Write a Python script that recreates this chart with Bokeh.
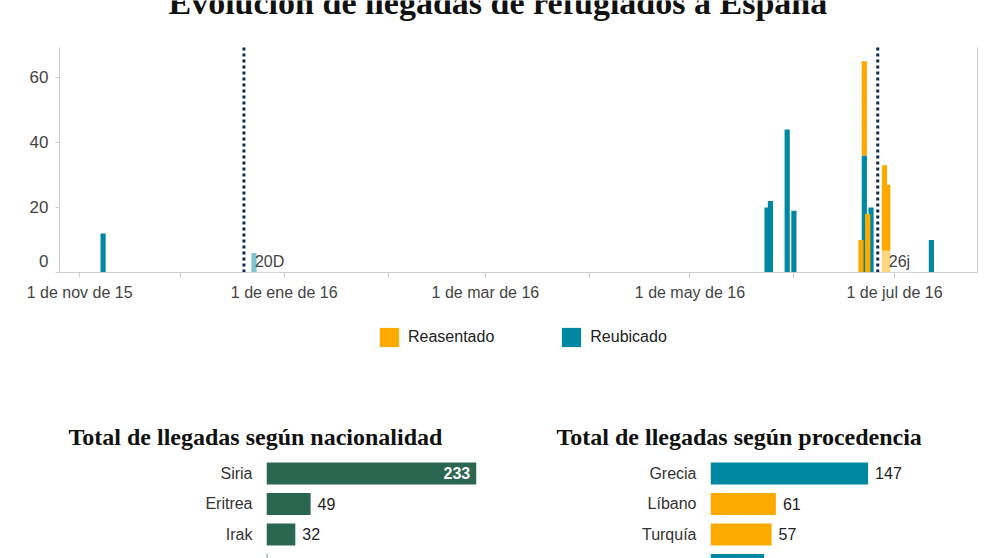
from datetime import datetime

from bokeh.core.properties import value
from bokeh.embed import file_html
from bokeh.layouts import column, row
from bokeh.models import (BoxAnnotation, ColumnDataSource, FixedTicker, Label,
                          Legend, LegendItem, Range1d)
from bokeh.plotting import figure
from bokeh.resources import INLINE

# ---------------------------------------------------------------- data
titulo = "Evolución de llegadas de refugiados a España"

# daily arrivals, by programme
fechas = ["2015-11-08", "2015-12-23", "2016-05-24", "2016-05-25", "2016-05-30",
          "2016-06-01", "2016-06-21", "2016-06-22", "2016-06-23", "2016-06-24",
          "2016-06-28", "2016-06-29", "2016-07-12"]
reubicado = [12, 6, 20, 22, 44, 19, 0, 36, 0, 20, 0, 0, 10]
reasentado = [0, 0, 0, 0, 0, 0, 10, 29, 18, 0, 33, 27, 0]
programas = ["Reasentado", "Reubicado"]

# election days marked on the timeline
hitos = ["2015-12-20", "2016-06-26"]
hitos_texto = ["20D", "26j"]

ticks_meses = ["2015-11-01", "2016-01-01", "2016-03-01", "2016-05-01", "2016-07-01"]
etiquetas_meses = ["1 de nov de 15", "1 de ene de 16", "1 de mar de 16",
                   "1 de may de 16", "1 de jul de 16"]
ticks_intermedios = ["2015-12-01", "2016-02-01", "2016-04-01", "2016-06-01"]
ticks_y = [0, 20, 40, 60]

nacionalidades = ["Siria", "Eritrea", "Irak", "República Centroafricana"]
llegadas_nacionalidad = [233, 49, 32, 1]

procedencias = ["Grecia", "Líbano", "Turquía", "Italia"]
llegadas_procedencia = [147, 61, 57, 50]
programa_procedencia = ["Reubicado", "Reasentado", "Reasentado", "Reubicado"]

# ---------------------------------------------------------------- style
TEAL = "#0088a2"
ORANGE = "#fdaa00"
GREEN = "#2a6650"
NAVY = "#0b2a50"
AXIS = "#cccccc"
SANS = "Liberation Sans"
SERIF = "Liberation Serif"
DAY = 86400000
COLOR_PROGRAMA = {"Reubicado": TEAL, "Reasentado": ORANGE}


def ms(s):
    return int((datetime.fromisoformat(s) - datetime(1970, 1, 1)).total_seconds() * 1000)


def bare(fig):
    fig.grid.visible = False
    fig.outline_line_color = None
    fig.background_fill_color = "white"
    fig.border_fill_color = "white"


# ---------------------------------------------------------------- timeline
# plot box: dates from 26 Oct 2015 to 25 Jul 2016, counts 0..69.2
inicio, limite = ms("2015-10-26"), ms("2016-07-25T18:00")
tope = 69.2

# canvas geometry (px).  The frame fills the whole canvas and both axes are
# pinned to the plot box, so heading, tick labels and legend all sit inside it.
ANCHO, ALTO = 992, 400
CAJA_IZQ, CAJA_DER = 59, 977
BASE, CIMA = 272, 47
px_unidad = (BASE - CIMA) / tope
px_ms = (CAJA_DER - CAJA_IZQ) / (limite - inicio)

p = figure(width=ANCHO, height=ALTO, title=None, x_axis_type="datetime",
           x_range=Range1d(inicio - CAJA_IZQ / px_ms,
                           limite + (ANCHO - CAJA_DER) / px_ms),
           y_range=Range1d(-(ALTO - BASE) / px_unidad, BASE / px_unidad),
           min_border=0, toolbar_location=None, output_backend="svg")
bare(p)

src = ColumnDataSource(dict(fecha=[ms(f) for f in fechas],
                            Reubicado=reubicado, Reasentado=reasentado))
barras = p.vbar_stack(["Reubicado", "Reasentado"], x="fecha", width=1.55 * DAY,
                      color=[TEAL, ORANGE], line_color=None, source=src)
por_programa = {"Reubicado": barras[0], "Reasentado": barras[1]}

xa = p.xaxis[0]
xa.fixed_location = 0
xa.bounds = (inicio, limite)
xa.ticker = FixedTicker(ticks=[ms(t) for t in ticks_meses],
                        minor_ticks=[ms(t) for t in ticks_intermedios])
xa.major_label_overrides = {ms(t): e for t, e in zip(ticks_meses, etiquetas_meses)}
xa.axis_line_color = AXIS
xa.major_tick_line_color = AXIS
xa.minor_tick_line_color = AXIS
xa.major_tick_in = 0
xa.major_tick_out = 5
xa.minor_tick_in = 0
xa.minor_tick_out = 5
xa.major_label_standoff = 6
xa.major_label_text_font = SANS
xa.major_label_text_font_size = "16px"
xa.major_label_text_color = "#444444"

ya = p.yaxis[0]
ya.fixed_location = inicio
ya.bounds = (0, tope)
ya.ticker = FixedTicker(ticks=ticks_y)
# the zero label is lifted half a line above the baseline
ya.major_label_overrides = {0: "0\n "}
ya.axis_line_color = AXIS
ya.major_tick_line_color = AXIS
ya.minor_tick_line_color = None
ya.major_tick_in = 0
ya.major_tick_out = 4
ya.major_label_standoff = 7
ya.major_label_text_font = SANS
ya.major_label_text_font_size = "17px"
ya.major_label_text_color = "#444444"

# right-hand border of the plot box
p.segment(x0=[limite], y0=[0], x1=[limite], y1=[tope], line_color=AXIS, line_width=1)

# election markers: dotted rule, a pale veil and the short label
p.segment(x0=[ms(h) for h in hitos], y0=0, x1=[ms(h) for h in hitos], y1=tope,
          line_color=NAVY, line_width=3, line_dash="3 3")
for fecha, texto in zip(hitos, hitos_texto):
    p.add_layout(BoxAnnotation(left=ms(fecha) + 4 / px_ms, right=ms(fecha) + 35 / px_ms,
                               bottom=0, top=22 / px_unidad, fill_color="white",
                               fill_alpha=0.5, line_color=None))
    p.add_layout(Label(x=ms(fecha), y=0, x_offset=11, y_offset=11, text=texto,
                       text_align="left", text_baseline="middle",
                       text_font=SANS, text_font_size="16px", text_color="#444444"))

# heading, mostly above the top edge of the page
p.text(x=[inicio], y=[(BASE - 1.5) / px_unidad], x_offset=168 - CAJA_IZQ,
       text=[titulo], text_align="left", text_baseline="alphabetic",
       text_font=value(SERIF), text_font_style="bold", text_font_size="34px",
       text_color="#111111")

legend = Legend(items=[LegendItem(label=prog, renderers=[por_programa[prog]])
                       for prog in programas],
                orientation="horizontal", location=(377, ALTO - 349),
                glyph_width=24, glyph_height=24, label_standoff=7, spacing=65,
                label_text_font=SANS, label_text_font_size="16px",
                label_text_color="#222222", border_line_color=None,
                background_fill_alpha=0, padding=0, margin=0)
p.add_layout(legend, "center")


# ---------------------------------------------------------------- totals
def totales(cats, vals, colores, texto, fin_x, borde_izq, desplazamiento):
    pos = list(range(len(cats)))
    f = figure(width=496, height=158, title=texto,
               x_range=Range1d(0, fin_x), y_range=Range1d(2.79, -0.685),
               x_axis_location=None, min_border_left=borde_izq,
               min_border_right=0, min_border_top=52, min_border_bottom=0,
               toolbar_location=None, output_backend="svg")
    bare(f)
    f.title.align = "left"
    f.title.offset = desplazamiento
    f.title.standoff = 5
    f.title.text_font = SERIF
    f.title.text_font_style = "bold"
    f.title.text_font_size = "24px"
    f.title.text_color = "#111111"

    f.hbar(y=pos, left=0, right=vals, height=0.72, fill_color=colores, line_color=None)

    dentro = [v / fin_x > 0.8 for v in vals]
    fuera_src = ColumnDataSource(dict(
        x=[v for v, d in zip(vals, dentro) if not d],
        y=[i for i, d in zip(pos, dentro) if not d],
        t=[str(v) for v, d in zip(vals, dentro) if not d]))
    dentro_src = ColumnDataSource(dict(
        x=[v for v, d in zip(vals, dentro) if d],
        y=[i for i, d in zip(pos, dentro) if d],
        t=[str(v) for v, d in zip(vals, dentro) if d]))
    f.text(x="x", y="y", text="t", source=fuera_src, x_offset=7,
           text_align="left", text_baseline="middle", text_font=value(SANS),
           text_font_size="16px", text_color="#222222")
    f.text(x="x", y="y", text="t", source=dentro_src, x_offset=-6,
           text_align="right", text_baseline="middle", text_font=value(SANS),
           text_font_size="16px", text_font_style="bold", text_color="white")

    ax = f.yaxis[0]
    ax.ticker = FixedTicker(ticks=pos)
    ax.major_label_overrides = {i: c for i, c in zip(pos, cats)}
    ax.axis_line_color = None
    ax.major_tick_line_color = None
    ax.minor_tick_line_color = None
    ax.major_label_standoff = 8
    ax.major_label_text_font = SANS
    ax.major_label_text_font_size = "16px"
    ax.major_label_text_color = "#333333"
    return f


izq = totales(nacionalidades, llegadas_nacionalidad, [GREEN] * len(nacionalidades),
              "Total de llegadas según nacionalidad", 255.5, 266, -198)
der = totales(procedencias, llegadas_procedencia,
              [COLOR_PROGRAMA[t] for t in programa_procedencia],
              "Total de llegadas según procedencia", 263, 214, -154)

layout = column(p, row(izq, der))
open("out.html", "w").write(file_html(layout, INLINE))
